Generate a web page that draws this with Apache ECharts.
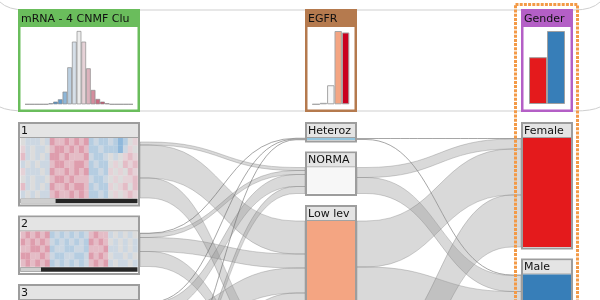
<!DOCTYPE html>
<html><head><meta charset="utf-8">
<script src="https://cdn.jsdelivr.net/npm/echarts@6/dist/echarts.min.js"></script>
<style>html,body{margin:0;padding:0;background:#fff}#c{width:600px;height:300px}</style>
</head><body><div id="c"></div>
<script>
// ---------------- data ----------------
const mrnaClusters = ['1', '2', '3', '4'];
const mrnaSizes = [120, 70, 110, 100];                 // patients per mRNA cluster
const egfrLabels = ['Homoz del', 'Heteroz', 'NORMA', 'Low lev', 'High lev'];
const egfrSizes = [0, 4, 52, 200, 196];
const genderLabels = ['Female', 'Male'];
const genderSizes = [218, 340];
// overlap counts (rows: source cluster, cols: target cluster)
const mrnaToEgfr = [
  [0, 0, 6, 66, 40],
  [0, 1, 8, 28, 30],
  [0, 2, 24, 50, 30],
  [0, 1, 14, 56, 29]
];
const egfrToGender = [
  [0, 0],
  [2, 2],
  [20, 32],
  [92, 108],
  [104, 92]
];
// expression histogram of the mRNA header
const histBins = [0, 0, 0, 0, 0, 3, 8, 15, 38, 111, 188, 220, 188, 108, 43, 16, 8, 3, 0, 0, 0, 0, 0];
// heatmap summaries (digit 0 = strong blue ... 8 = strong red)
const heatmap1 = [
  '433343766767672322321245',
  '534334677676762232221354',
  '634343776766673223434565',
  '343433677667762322454656',
  '533343766767672232545465',
  '434334677676663223454556',
  '634343766767762322545646',
  '343433676676762232454565'
];
const heatmap2 = [
  '676767232323236766343434',
  '767676323232327676434343',
  '667767233223326667334343',
  '776676322332237676433434',
  '676767232323236767343343'
];
const heatmaps = [heatmap1, heatmap2, ['444444444444444444444444'], ['444444444444444444444444']];

// ---------------- styles / layout ----------------
const heatRamp = ['#5b9bd0', '#8fb8db', '#b5cde1', '#ccd7e2', '#dcdcdc', '#e5d2d7', '#e4bcc6', '#de9dad', '#d26a84'];
const histColors = ['#2166ac','#2166ac','#2166ac','#2166ac','#2166ac','#3f7fbf','#4d8ec6','#5f9bcf','#8db6d8','#bcd0e1','#d6dfe8','#ececec','#e6d2d7','#dcb3bd','#d48d9d','#cc6a81','#c44f69','#bd3a56','#b2182b','#b2182b','#b2182b','#b2182b','#b2182b'];
const egfrColors = ['#0571b0', '#92c5de', '#f7f7f7', '#f4a582', '#ca0020'];
const genderColors = ['#e41a1c', '#377eb8'];
const FONT = '"DejaVu Sans", sans-serif';

const PX = 0.5, CAP = 16, GAP = 10, TOP0 = 122, PAD = 1.5, PBAR = 6;
const COLS = { mrna: [18, 140], egfr: [305, 357], gender: [521, 573] };
const HEAD = { top: 10, bottom: 111, cap: 17 };

function layout(sizes, extra) {
  let y = TOP0;
  return sizes.map(s => {
    if (!s) return null;
    const b = { top: y, bodyTop: y + CAP, bodyBot: y + CAP + s * PX };
    b.bottom = b.bodyBot + extra + PAD;
    y = b.bottom + GAP;
    return b;
  });
}
const mrnaL = layout(mrnaSizes, PBAR);
const egfrL = layout(egfrSizes, 0);
const genL = layout(genderSizes, 0);

const shapes = [];
// header band outline
shapes.push({ k: 'band', y: HEAD.top, end: -8 });
shapes.push({ k: 'band', y: HEAD.bottom, end: -4 });

function addRibbons(M, S, T, xs, xt) {
  const so = S.map((b, i) => b ? b.bodyBot - M[i].reduce((a, c) => a + c, 0) * PX : 0);
  const to = T.map(b => b ? b.bodyTop : 0);
  M.forEach((row, i) => row.forEach((n, j) => {
    if (!n || !S[i] || !T[j]) return;
    const h = n * PX;
    shapes.push({ k: 'ribbon', xs, xt, s0: so[i], s1: so[i] + h, t0: to[j], t1: to[j] + h });
    so[i] += h; to[j] += h;
  }));
}
addRibbons(mrnaToEgfr, mrnaL, egfrL, COLS.mrna[1], COLS.egfr[0]);
addRibbons(egfrToGender, egfrL, genL, COLS.egfr[1], COLS.gender[0]);

function addHeader(col, label, color) {
  const [x0, x1] = col;
  shapes.push({ k: 'rect', x: x0 + 1.25, y: HEAD.top + 0.25, w: x1 - x0 - 2.5, h: HEAD.bottom - HEAD.top - 0.5, fill: '#fff', stroke: color, lw: 2.5 });
  shapes.push({ k: 'rect', x: x0 + 1, y: HEAD.top, w: x1 - x0 - 2, h: HEAD.cap, fill: color });
  shapes.push({ k: 'text', x: x0 + 3, y: HEAD.top + HEAD.cap / 2 + 0.5, text: label, size: 11, clip: x1 - x0 - 5 });
}
function addBox(col, b, label) {
  const [x0, x1] = col;
  shapes.push({ k: 'rect', x: x0 + 1, y: b.top + 1, w: x1 - x0 - 2, h: b.bottom - b.top - 1, fill: '#fff', stroke: '#9d9d9d', lw: 2 });
  shapes.push({ k: 'rect', x: x0 + 2, y: b.top + 2, w: x1 - x0 - 4, h: CAP - 2.5, fill: '#e4e4e4' });
  shapes.push({ k: 'rect', x: x0 + 2, y: b.bodyTop - 1, w: x1 - x0 - 4, h: 1, fill: '#a3a3a3' });
  shapes.push({ k: 'text', x: x0 + 3, y: b.top + CAP / 2 + 1, text: label, size: 11, clip: x1 - x0 - 5 });
}

addHeader(COLS.mrna, 'mRNA - 4 CNMF Clu', '#6abd5c');
addHeader(COLS.egfr, 'EGFR', '#b57a4e');
addHeader(COLS.gender, 'Gender', '#b45fc6');

const mrnaTotal = mrnaSizes.reduce((a, c) => a + c, 0);
mrnaL.forEach((b, i) => {
  if (!b) return;
  addBox(COLS.mrna, b, mrnaClusters[i]);
  const hx0 = COLS.mrna[0] + 2.5, hx1 = COLS.mrna[1] - 2.5;
  const rows = heatmaps[i];
  const rh = (b.bodyBot - b.bodyTop) / rows.length;
  rows.forEach((r, ri) => {
    const cw = (hx1 - hx0) / r.length;
    for (let ci = 0; ci < r.length; ci++) {
      shapes.push({ k: 'rect', x: hx0 + ci * cw, y: b.bodyTop + ri * rh, w: cw + 0.3, h: rh + 0.3, fill: heatRamp[+r[ci]] });
    }
  });
  const frac = mrnaSizes[i] / mrnaTotal;
  const by = b.bodyBot + 0.8, bh = 4.4;
  shapes.push({ k: 'rect', x: hx0, y: by, w: (hx1 - hx0), h: bh, fill: '#262626' });
  shapes.push({ k: 'rect', x: hx0, y: by, w: (hx1 - hx0) * frac, h: bh, fill: '#cfcfcf' });
});
egfrL.forEach((b, i) => {
  if (!b) return;
  addBox(COLS.egfr, b, egfrLabels[i]);
  shapes.push({ k: 'rect', x: COLS.egfr[0] + 2, y: b.bodyTop, w: COLS.egfr[1] - COLS.egfr[0] - 4, h: b.bodyBot - b.bodyTop, fill: egfrColors[i] });
});
genL.forEach((b, i) => {
  if (!b) return;
  addBox(COLS.gender, b, genderLabels[i]);
  shapes.push({ k: 'rect', x: COLS.gender[0] + 2, y: b.bodyTop, w: COLS.gender[1] - COLS.gender[0] - 4, h: b.bodyBot - b.bodyTop, fill: genderColors[i] });
});

function renderItem(params, api) {
  const s = shapes[params.dataIndex];
  const p = (x, y) => api.coord([x, y]);
  if (s.k === 'band') {
    const a = p(0, s.y + s.end), b = p(26, s.y), c = p(574, s.y), d = p(600, s.y + s.end), q1 = p(8, s.y), q2 = p(592, s.y);
    return { type: 'path', shape: { pathData: `M${a[0]} ${a[1]}Q${q1[0]} ${q1[1]} ${b[0]} ${b[1]}L${c[0]} ${c[1]}Q${q2[0]} ${q2[1]} ${d[0]} ${d[1]}` },
      style: { fill: 'none', stroke: '#cfcfcf', lineWidth: 1 } };
  }
  if (s.k === 'rect') {
    const a = p(s.x, s.y), b = p(s.x + s.w, s.y + s.h);
    return { type: 'rect', shape: { x: a[0], y: a[1], width: b[0] - a[0], height: b[1] - a[1] },
      style: { fill: s.fill || 'none', stroke: s.stroke || null, lineWidth: s.lw || 0 } };
  }
  if (s.k === 'text') {
    const a = p(s.x, s.y);
    return { type: 'text', x: a[0], y: a[1],
      style: { text: s.text, fill: '#111', fontSize: s.size, fontFamily: FONT, verticalAlign: 'middle', align: 'left', width: s.clip, overflow: 'truncate', ellipsis: '' } };
  }
  if (s.k === 'ribbon') {
    const a0 = p(s.xs, s.s0), a1 = p(s.xs, s.s1), b0 = p(s.xt, s.t0), b1 = p(s.xt, s.t1);
    const st = 9, xa = a0[0] + st, xb = b0[0] - st, xm = (xa + xb) / 2;
    if (s.s1 - s.s0 <= 1.01) {
      const y0 = (a0[1] + a1[1]) / 2, y1 = (b0[1] + b1[1]) / 2;
      return { type: 'path', shape: { pathData: `M${a0[0]} ${y0}L${xa} ${y0}C${xm} ${y0} ${xm} ${y1} ${xb} ${y1}L${b0[0]} ${y1}` },
        style: { fill: 'none', stroke: 'rgba(105,105,105,0.75)', lineWidth: 0.8 } };
    }
    const d = `M${a0[0]} ${a0[1]}L${xa} ${a0[1]}C${xm} ${a0[1]} ${xm} ${b0[1]} ${xb} ${b0[1]}L${b0[0]} ${b0[1]}` +
      `L${b1[0]} ${b1[1]}L${xb} ${b1[1]}C${xm} ${b1[1]} ${xm} ${a1[1]} ${xa} ${a1[1]}L${a1[0]} ${a1[1]}Z`;
    return { type: 'path', shape: { pathData: d },
      style: { fill: 'rgba(150,150,150,0.36)', stroke: 'rgba(125,125,125,0.45)', lineWidth: 0.8 } };
  }
  return null;
}

const hidden = { show: false };
const chart = echarts.init(document.getElementById('c'), null, { renderer: 'canvas' });
chart.setOption({
  animation: false,
  backgroundColor: '#fff',
  graphic: [
    { type: 'rect', z: 50, shape: { x: 515.5, y: 4.5, width: 62, height: 320 }, style: { fill: 'none', stroke: '#f39a47', lineWidth: 3, lineDash: [3, 1.2] } }
  ],
  grid: [
    { left: 0, top: 0, width: 600, height: 300 },
    { left: 25, top: 31, width: 108, height: 73.3 },
    { left: 312.3, top: 31, width: 37, height: 73.3 },
    { left: 529, top: 31, width: 36, height: 73 }
  ],
  xAxis: [
    { type: 'value', min: 0, max: 600, gridIndex: 0, show: false },
    { type: 'category', gridIndex: 1, data: histBins.map((v, i) => String(i)), axisLine: { lineStyle: { color: '#8a8a8a', width: 1 } }, axisTick: hidden, axisLabel: hidden },
    { type: 'category', gridIndex: 2, data: egfrLabels, axisLine: { lineStyle: { color: '#9a9a9a', width: 1 } }, axisTick: hidden, axisLabel: hidden },
    { type: 'category', gridIndex: 3, data: genderLabels, axisLine: hidden, axisTick: hidden, axisLabel: hidden }
  ],
  yAxis: [
    { type: 'value', min: 0, max: 300, inverse: true, gridIndex: 0, show: false },
    { type: 'value', gridIndex: 1, min: 0, max: 'dataMax', show: false, splitLine: hidden },
    { type: 'value', gridIndex: 2, min: 0, max: 'dataMax', show: false, splitLine: hidden },
    { type: 'value', gridIndex: 3, min: 0, max: 'dataMax', show: false, splitLine: hidden }
  ],
  series: [
    { type: 'custom', xAxisIndex: 0, yAxisIndex: 0, z: 1, silent: true, clip: false,
      data: shapes.map((s, i) => [i % 600, 0]), renderItem },
    { type: 'bar', xAxisIndex: 1, yAxisIndex: 1, z: 5, silent: true, barCategoryGap: '0%',
      itemStyle: { borderColor: '#8c8c8c', borderWidth: 0.7 },
      data: histBins.map((v, i) => ({ value: v, itemStyle: { color: histColors[i] } })) },
    { type: 'bar', xAxisIndex: 2, yAxisIndex: 2, z: 5, silent: true, barCategoryGap: '0%',
      itemStyle: { borderColor: '#a5a5a5', borderWidth: 1 },
      data: egfrSizes.map((v, i) => ({ value: v, itemStyle: { color: egfrColors[i] } })) },
    { type: 'bar', xAxisIndex: 3, yAxisIndex: 3, z: 5, silent: true, barCategoryGap: '0%',
      itemStyle: { borderColor: '#a0a0a0', borderWidth: 1 },
      data: genderSizes.map((v, i) => ({ value: v, itemStyle: { color: genderColors[i] } })) }
  ]
});
</script></body></html>
